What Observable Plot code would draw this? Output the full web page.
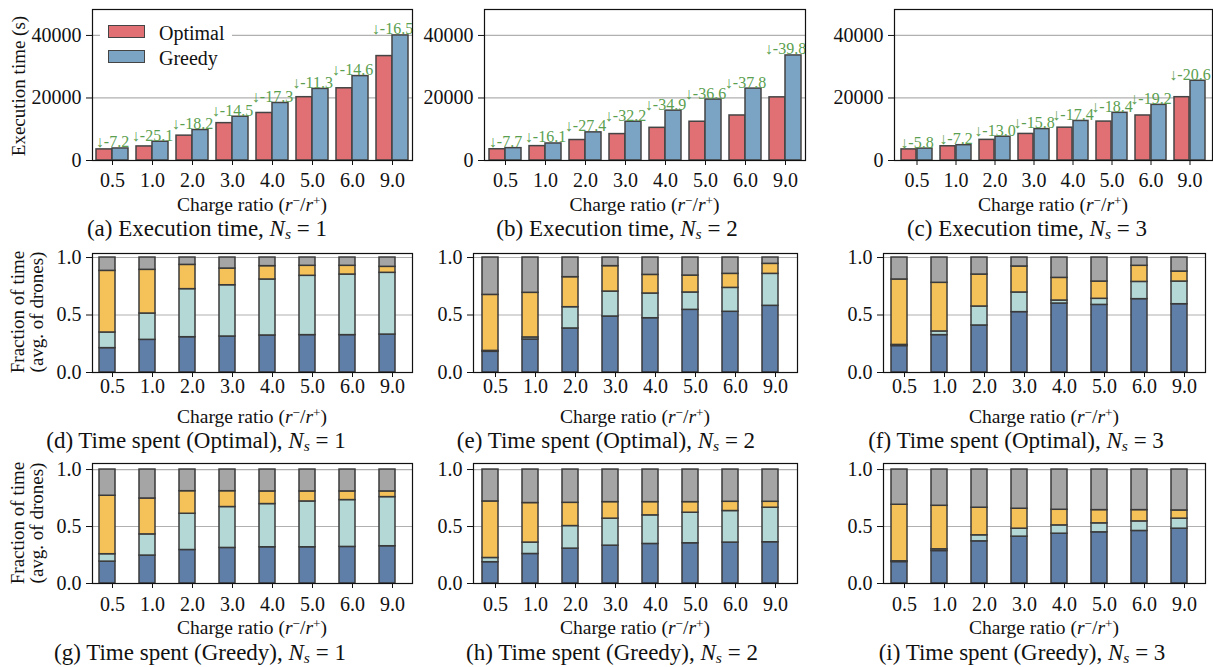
<!DOCTYPE html>
<html><head><meta charset="utf-8">
<script src="https://cdn.jsdelivr.net/npm/d3@7"></script>
<script src="https://cdn.jsdelivr.net/npm/@observablehq/plot@0.6"></script>
<style>
body{margin:0;background:#fff;}
#root{position:relative;width:1213px;height:667px;overflow:hidden;font-family:"Liberation Serif",serif;color:#111;}
.panel{position:absolute;}
.panel svg{overflow:visible;display:block;max-width:none !important;}
.ctr{position:absolute;white-space:nowrap;transform:translate(-50%,-50%);line-height:1;}
.rot{position:absolute;white-space:nowrap;transform:translate(-50%,-50%) rotate(-90deg);text-align:center;font-size:19px;line-height:19px;}
.xl{font-size:19.5px;}
.cap{font-size:23px;}
sub,sup{font-size:0.68em;line-height:0;}
sub{vertical-align:-0.22em;}
sup{vertical-align:0.45em;}
.legend{position:absolute;left:100px;top:14px;width:132px;height:60px;background:#fff;z-index:5;font-size:20px;}
.legend .sw{position:absolute;left:8px;width:35px;height:11px;border:1.5px solid #444;}
.legend .tx{position:absolute;left:59px;line-height:1;}
</style></head><body><div id="root"></div><script>
// categories
const ratios = ["0.5","1.0","2.0","3.0","4.0","5.0","6.0","9.0"];

// execution time (s), N_s = 1,2,3
const execOptimalNs1 = [3550, 4500, 7950, 11950, 15200, 20250, 23100, 33400];
const execGreedyNs1  = [3850, 6000, 9750, 14000, 18400, 22900, 27000, 40000];
const execGainNs1    = ["-7.2","-25.1","-18.2","-14.5","-17.3","-11.3","-14.6","-16.5"];
const execOptimalNs2 = [3600, 4600, 6550, 8450, 10450, 12400, 14400, 20200];
const execGreedyNs2  = [3950, 5450, 9000, 12400, 15950, 19500, 23000, 33600];
const execGainNs2    = ["-7.7","-16.1","-27.4","-32.2","-34.9","-36.6","-37.8","-39.8"];
const execOptimalNs3 = [3550, 4550, 6600, 8500, 10500, 12450, 14400, 20250];
const execGreedyNs3  = [3800, 4900, 7600, 10050, 12650, 15250, 17800, 25500];
const execGainNs3    = ["-5.8","-7.2","-13.0","-15.8","-17.4","-18.4","-19.2","-20.6"];

// fraction of time: cumulative segment boundaries (bottom -> top)
const optimalNs1Level1 = [0.212,0.284,0.307,0.313,0.322,0.325,0.325,0.330];
const optimalNs1Level2 = [0.348,0.513,0.725,0.759,0.809,0.841,0.852,0.867];
const optimalNs1Level3 = [0.884,0.893,0.936,0.904,0.925,0.928,0.928,0.919];
const optimalNs2Level1 = [0.180,0.287,0.383,0.487,0.472,0.545,0.528,0.580];
const optimalNs2Level2 = [0.188,0.305,0.568,0.704,0.687,0.696,0.736,0.858];
const optimalNs2Level3 = [0.675,0.693,0.829,0.925,0.849,0.843,0.858,0.945];
const optimalNs3Level1 = [0.230,0.325,0.409,0.525,0.600,0.588,0.638,0.594];
const optimalNs3Level2 = [0.240,0.357,0.574,0.696,0.626,0.641,0.788,0.791];
const optimalNs3Level3 = [0.809,0.780,0.852,0.922,0.823,0.791,0.928,0.878];
const greedyNs1Level1  = [0.192,0.245,0.294,0.312,0.318,0.318,0.321,0.327];
const greedyNs1Level2  = [0.257,0.431,0.612,0.671,0.697,0.720,0.732,0.758];
const greedyNs1Level3  = [0.770,0.746,0.810,0.810,0.808,0.808,0.808,0.808];
const greedyNs2Level1  = [0.187,0.259,0.306,0.332,0.347,0.353,0.359,0.362];
const greedyNs2Level2  = [0.224,0.359,0.504,0.569,0.598,0.621,0.636,0.665];
const greedyNs2Level3  = [0.720,0.706,0.708,0.714,0.714,0.714,0.717,0.717];
const greedyNs3Level1  = [0.188,0.285,0.370,0.411,0.437,0.449,0.461,0.481];
const greedyNs3Level2  = [0.195,0.300,0.423,0.481,0.510,0.528,0.545,0.569];
const greedyNs3Level3  = [0.691,0.682,0.665,0.656,0.647,0.644,0.644,0.641];

const execTicks = [0, 20000, 40000];
const fracTicks = [0, 0.5, 1.0];
const seriesNames = ["Optimal", "Greedy"];
const seriesColors = ["#e07074", "#7aa3c4"];
const segColors = ["#5f7ea8", "#b4d8d6", "#f5c25a", "#a5a5a5"];

const root = document.getElementById("root");
const M = {l: 80, r: 14, t: 30, b: 40};
const FONT = "'Liberation Serif', serif";
const TICK_FS = 20;

function addPanel(svg, f) {
  const d = document.createElement("div");
  d.className = "panel";
  d.style.left = (f.l - M.l) + "px";
  d.style.top = (f.t - M.t) + "px";
  d.style.width = (f.w + M.l + M.r) + "px";
  d.appendChild(svg);
  root.appendChild(d);
}
function addHTML(cls, html, x, y) {
  const d = document.createElement("div");
  d.className = cls;
  d.style.left = x + "px";
  d.style.top = y + "px";
  d.innerHTML = html;
  root.appendChild(d);
}
function baseOpts(f) {
  return {
    width: f.w + M.l + M.r, height: f.h + M.t + M.b,
    marginLeft: M.l, marginRight: M.r, marginTop: M.t, marginBottom: M.b,
    style: {background: "transparent", fontFamily: FONT, fontSize: TICK_FS + "px", color: "#111", overflow: "visible", maxWidth: "none"}
  };
}

function execPanel(opt, gre, gain, f, xPad) {
  const data = ratios.map((r, i) => ({r, opt: opt[i], gre: gre[i], gain: "\u2193" + gain[i]}));
  const svg = Plot.plot({
    ...baseOpts(f),
    x: {type: "band", domain: ratios, padding: 0, label: null},
    y: {domain: [0, 48300], label: null},
    marks: [
      Plot.gridY(execTicks.slice(1), {stroke: "#b0b0b0", strokeOpacity: 1, strokeWidth: 1.2}),
      Plot.barY(data, {x: "r", y: "opt", fill: seriesColors[0], stroke: "#444", strokeWidth: 1.5, insetLeft: 4, insetRight: 20}),
      Plot.barY(data, {x: "r", y: "gre", fill: seriesColors[1], stroke: "#444", strokeWidth: 1.5, insetLeft: 20, insetRight: 4}),
      Plot.text(data, {x: "r", y: "gre", text: "gain", dy: -1, lineAnchor: "bottom", fill: "#5aa050", fontSize: 16, fontFamily: FONT}),
      Plot.frame({stroke: "#111", strokeWidth: 1.2}),
      Plot.axisX({tickSize: 5, tickPadding: xPad, fontSize: TICK_FS, label: null}),
      Plot.axisY({ticks: execTicks, tickFormat: d => String(d), tickSize: 6, tickPadding: 5, fontSize: TICK_FS, label: null})
    ]
  });
  addPanel(svg, f);
}

function sharePanel(l1, l2, l3, f, top, xPad) {
  const segs = [];
  ratios.forEach((r, i) => {
    const b = [0, l1[i], l2[i], l3[i], 1];
    for (let k = 0; k < 4; k++) segs.push({r, k, y1: b[k], y2: b[k + 1]});
  });
  const svg = Plot.plot({
    ...baseOpts(f),
    x: {type: "band", domain: ratios, padding: 0, label: null},
    y: {domain: [0, top], label: null},
    marks: [
      Plot.gridY(fracTicks.slice(1), {stroke: "#b0b0b0", strokeOpacity: 1, strokeWidth: 1.2}),
      ...segColors.map((c, k) => Plot.barY(segs.filter(s => s.k === k), {x: "r", y1: "y1", y2: "y2", fill: c, stroke: "#3a3a3a", strokeWidth: 1.5, insetLeft: 7, insetRight: 17})),
      Plot.frame({stroke: "#111", strokeWidth: 1.2}),
      Plot.axisX({tickSize: 5, tickPadding: xPad, fontSize: TICK_FS, label: null}),
      Plot.axisY({ticks: fracTicks, tickFormat: d3.format(".1f"), tickSize: 6, tickPadding: 5, fontSize: TICK_FS, label: null})
    ]
  });
  addPanel(svg, f);
}

const XL = 'Charge ratio (<i>r</i><sup>\u2212</sup>/<i>r</i><sup>+</sup>)';
const NS = n => '<i>N<sub>s</sub></i> = ' + n;

// row 1
const fa = {l: 92, t: 9, w: 320, h: 151}, fb = {l: 484, t: 9, w: 321, h: 151}, fc = {l: 894, t: 9, w: 318, h: 151};
execPanel(execOptimalNs1, execGreedyNs1, execGainNs1, fa, 7);
execPanel(execOptimalNs2, execGreedyNs2, execGainNs2, fb, 7);
execPanel(execOptimalNs3, execGreedyNs3, execGainNs3, fc, 7);
// row 2
const fd = {l: 92, t: 253, w: 320, h: 119}, fe = {l: 473, t: 253, w: 324, h: 119}, ff = {l: 883, t: 253, w: 322, h: 119};
sharePanel(optimalNs1Level1, optimalNs1Level2, optimalNs1Level3, fd, 1.035, 1);
sharePanel(optimalNs2Level1, optimalNs2Level2, optimalNs2Level3, fe, 1.035, 1);
sharePanel(optimalNs3Level1, optimalNs3Level2, optimalNs3Level3, ff, 1.035, 1);
// row 3
const fg = {l: 92, t: 463, w: 320, h: 120}, fh = {l: 473, t: 463, w: 324, h: 120}, fi = {l: 883, t: 463, w: 322, h: 120};
sharePanel(greedyNs1Level1, greedyNs1Level2, greedyNs1Level3, fg, 1.053, 8);
sharePanel(greedyNs2Level1, greedyNs2Level2, greedyNs2Level3, fh, 1.053, 8);
sharePanel(greedyNs3Level1, greedyNs3Level2, greedyNs3Level3, fi, 1.053, 8);

// x labels
[[fa, 205], [fb, 205], [fc, 205], [fd, 417], [fe, 417], [ff, 417], [fg, 628], [fh, 628], [fi, 628]]
  .forEach(([f, y]) => addHTML("ctr xl", XL, f.l + f.w / 2, y));
// captions
const captions = [
  ["(a) Execution time, " + NS(1), 207, 228],
  ["(b) Execution time, " + NS(2), 617, 228],
  ["(c) Execution time, " + NS(3), 1027, 228],
  ["(d) Time spent (Optimal), " + NS(1), 196, 440],
  ["(e) Time spent (Optimal), " + NS(2), 606, 440],
  ["(f) Time spent (Optimal), " + NS(3), 1016, 440],
  ["(g) Time spent (Greedy), " + NS(1), 200, 652],
  ["(h) Time spent (Greedy), " + NS(2), 612, 652],
  ["(i) Time spent (Greedy), " + NS(3), 1022, 652]
];
captions.forEach(([t, x, y]) => addHTML("ctr cap", t, x, y));
// y labels
addHTML("rot", "Execution time (s)", 18, 86);
addHTML("rot", "Fraction of time<br>(avg. of drones)", 27, 312);
addHTML("rot", "Fraction of time<br>(avg. of drones)", 27, 523);

// legend
const lg = document.createElement("div");
lg.className = "legend";
lg.innerHTML = seriesNames.map((n, i) =>
  `<div class="sw" style="top:${11 + i * 25}px;background:${seriesColors[i]}"></div><div class="tx" style="top:${9 + i * 25}px">${n}</div>`).join("");
root.appendChild(lg);
</script></body></html>
